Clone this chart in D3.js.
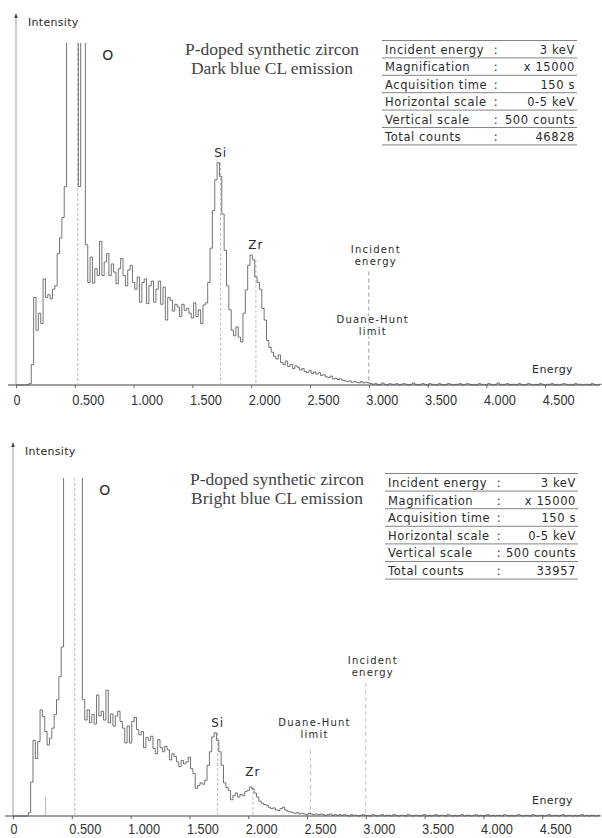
<!DOCTYPE html>
<html>
<head>
<meta charset="utf-8">
<script src="https://cdn.jsdelivr.net/npm/d3@7"></script>
<style>
  html, body { margin: 0; padding: 0; background: #fff; }
  svg { display: block; }
</style>
</head>
<body>
<svg id="chart" width="602" height="838"></svg>
<script>
// EDS spectra, one channel every 0.02 keV from 0 to 5 keV (counts)
const energyStep = 0.02;

const darkCounts = [
  0, 0, 0, 0, 0, 0,
  2, 30, 128, 80, 105, 90, 155, 128, 132, 126, 140, 145, 192, 215,
  245, 290, 700, 900, 1100, 1200, 1000, 290, 900, 700,
  205, 150, 187, 149, 170, 160, 210, 160, 180, 192,
  160, 177, 165, 148, 170, 185, 160, 145, 168, 175,
  150, 140, 158, 121, 150, 155, 119, 145, 152, 121,
  140, 152, 118, 143, 95, 128, 124, 108, 118, 114,
  100, 118, 109, 112, 105, 98, 120, 100, 110, 90,
  117, 120, 150, 200, 255, 300, 325, 305, 250, 197,
  145, 110, 80, 72, 85, 70, 63, 105, 139, 175,
  190, 183, 158, 150, 140, 112, 95, 65, 55, 48,
  42, 38, 44, 33, 30, 35, 27, 30, 24, 28,
  26, 22, 24, 20, 18, 21, 17, 19, 16, 18,
  14, 15, 12, 11, 13, 9, 10, 8, 9, 7,
  6, 5, 6, 4, 5, 4, 3, 5, 3, 4,
  3,
  2, 1, 2, 0, 1, 3, 1, 0, 2, 1,
  1, 2, 0, 1, 2, 1, 0, 1, 3, 1,
  0, 1, 2, 1, 0, 2, 1, 1, 0, 2,
  1, 0, 1, 2, 1, 0, 1, 1, 2, 0,
  1, 2, 1, 0, 1, 0, 2, 1, 1, 0,
  2, 1, 0, 1, 3, 1, 0, 1, 2, 0,
  1, 1, 0, 2, 1, 0, 1, 2, 1, 0,
  1, 0, 2, 1, 0, 1, 1, 2, 0, 1,
  0, 1, 2, 1, 0, 1, 0, 2, 1, 1,
  0, 1, 1, 0, 2, 1, 0, 1, 1, 0
];

const brightCounts = [
  0, 0, 0, 0, 0, 0, 0,
  5, 50, 112, 85, 110, 157, 147, 125, 105, 115, 130, 150, 172,
  206, 250, 700, 1000, 1300, 1500, 1400, 1100, 800, 600,
  172, 142, 157, 138, 150, 136, 179, 148, 155, 142,
  186, 138, 151, 133, 148, 155, 140, 130, 108, 133,
  108, 140, 146, 128, 120, 125, 101, 116, 112, 118,
  100, 92, 113, 101, 95, 103, 98, 83, 92, 88,
  80, 73, 82, 77, 80, 87, 70, 63, 41, 45,
  49, 47, 53, 75, 95, 117, 123, 112, 95, 75,
  49, 42, 38, 24, 30, 34, 28, 32, 30, 36,
  38, 43, 40, 34, 28, 22, 19, 17, 16, 13,
  11, 12, 9, 8, 11, 13, 9, 7, 6, 5,
  4, 5, 3, 4, 3, 2, 4, 3, 2, 3,
  2, 3, 2, 1, 2, 3, 1, 2, 1, 2,
  1, 2, 1, 0, 2, 1, 1, 0, 1, 2,
  1,
  1, 0, 2, 1, 0, 1, 2, 0, 1, 1,
  0, 2, 1, 0, 1, 1, 0, 2, 1, 0,
  1, 1, 0, 1, 2, 0, 1, 0, 1, 2,
  0, 1, 1, 0, 2, 1, 0, 1, 0, 1,
  2, 0, 1, 1, 0, 1, 2, 0, 1, 0,
  1, 2, 0, 1, 0, 1, 1, 0, 2, 1,
  0, 1, 0, 1, 2, 1, 0, 1, 1, 0,
  2, 1, 0, 1, 1, 0, 1, 2, 0, 1,
  1, 0, 1, 2, 0, 1, 1, 0, 1, 0,
  1, 2, 0, 1, 0, 1, 1, 0, 1, 0
];

const tickValues = [0, 0.5, 1, 1.5, 2, 2.5, 3, 3.5, 4, 4.5];
const tickLabels = ["0", "0.500", "1.000", "1.500", "2.000", "2.500", "3.000", "3.500", "4.000", "4.500"];

const tableLabels = ["Incident energy", "Magnification", "Acquisition time", "Horizontal scale", "Vertical scale", "Total counts"];
const darkTableValues = ["3 keV", "x 15000", "150 s", "0-5 keV", "500 counts", "46828"];
const brightTableValues = ["3 keV", "x 15000", "150 s", "0-5 keV", "500 counts", "33957"];

const peakNames = ["O", "Si", "Zr"];
const peakEnergies = [0.525, 1.74, 2.04];
const carbonEnergy = 0.277;
const incidentEnergy = 3.0;
const darkDuaneHunt = 3.0;
const brightDuaneHunt = 2.53;
const fullScale = 500;

const darkTitle = ["P-doped synthetic zircon", "Dark blue CL emission"];
const brightTitle = ["P-doped synthetic zircon", "Bright blue CL emission"];

// ---------- drawing ----------
const svg = d3.select("#chart");
const SANS = "'DejaVu Sans', Verdana, sans-serif";
const SERIF = "'Liberation Serif', 'Times New Roman', serif";
const NARROW = "'Liberation Sans Narrow', 'Liberation Sans', Arial, sans-serif";
const INK = "#2b2b2b";

const panels = [
  { id: "dark", counts: darkCounts, title: darkTitle, tableValues: darkTableValues, duaneHunt: darkDuaneHunt,
    x0: 16, base: 385, top: 43, arrowY: 13, titleX: 272, titleY: 55, tickY: 20,
    tableX: 382, tableW: 195, tableTop: 40.5, rowH: 17.4,
    incidentLabelY: 253, incidentLineTop: 271, dhLabelY: 323, dhLineTop: 272, carbon: false },
  { id: "bright", counts: brightCounts, title: brightTitle, tableValues: brightTableValues, duaneHunt: brightDuaneHunt,
    x0: 13, base: 816, top: 478, arrowY: 442, titleX: 277, titleY: 485, tickY: 18,
    tableX: 385, tableW: 193, tableTop: 473.5, rowH: 17.6,
    incidentLabelY: 664, incidentLineTop: 683, dhLabelY: 726, dhLineTop: 750, carbon: true }
];

const pxPerKeV = 117.6;

panels.forEach(p => {
  const g = svg.append("g").attr("class", "panel-" + p.id);
  const x = d3.scaleLinear().domain([0, 5]).range([p.x0, p.x0 + 5 * pxPerKeV]);
  const y = d3.scaleLinear().domain([0, fullScale]).range([p.base, p.top]);

  const clipId = "clip-" + p.id;
  svg.append("defs").append("clipPath").attr("id", clipId)
    .append("rect").attr("x", 0).attr("y", p.top).attr("width", 602).attr("height", p.base - p.top + 1);

  // energy axis
  g.append("line")
    .attr("x1", x(0) - 8).attr("x2", 600)
    .attr("y1", p.base).attr("y2", p.base)
    .attr("stroke", "#444").attr("stroke-width", 1.2);

  const axis = d3.axisBottom(x)
    .tickValues(tickValues)
    .tickSize(3)
    .tickFormat((d, i) => tickLabels[i]);
  const ax = g.append("g").attr("transform", `translate(0,${p.base})`).call(axis);
  ax.select(".domain").remove();
  ax.selectAll(".tick line").attr("stroke", "#666");
  ax.selectAll(".tick text")
    .attr("y", p.tickY).attr("dy", 0).attr("x", -3)
    .attr("text-anchor", "start")
    .attr("fill", "#333")
    .style("font-family", NARROW)
    .style("font-size", "15.5px")
    .attr("textLength", (d, i) => tickLabels[i].length > 1 ? 32 : 7)
    .attr("lengthAdjust", "spacingAndGlyphs");

  // intensity axis with arrow
  g.append("line")
    .attr("x1", x(0)).attr("x2", x(0))
    .attr("y1", p.base).attr("y2", p.arrowY + 3)
    .attr("stroke", "#888").attr("stroke-width", 0.8);
  g.append("path")
    .attr("d", `M${x(0)},${p.arrowY} l-1.8,5 l3.6,0 z`)
    .attr("fill", "#444");
  g.append("text")
    .attr("x", x(0) + 12).attr("y", p.arrowY + 13)
    .attr("fill", INK)
    .style("font-family", SANS).style("font-size", "11px")
    .style("letter-spacing", "0.3px")
    .text("Intensity");
  g.append("text")
    .attr("x", 573).attr("y", p.base - 12)
    .attr("text-anchor", "end")
    .attr("fill", INK)
    .style("font-family", SANS).style("font-size", "11px")
    .style("letter-spacing", "0.4px")
    .text("Energy");

  // element marker lines
  const peakTop = e => {
    const near = p.counts.filter((c, i) => Math.abs(i * energyStep - e) <= 0.03);
    return y(Math.min(fullScale, d3.max(near)));
  };
  peakEnergies.forEach((e, k) => {
    g.append("line")
      .attr("x1", x(e)).attr("x2", x(e))
      .attr("y1", k === 0 ? p.top : peakTop(e)).attr("y2", p.base)
      .attr("stroke", "#aaa").attr("stroke-width", 0.8)
      .attr("stroke-dasharray", "3,2");
  });
  if (p.carbon) {
    g.append("line")
      .attr("x1", x(carbonEnergy)).attr("x2", x(carbonEnergy))
      .attr("y1", y(28)).attr("y2", p.base)
      .attr("stroke", "#aaa").attr("stroke-width", 0.8);
  }

  // incident energy and Duane-Hunt limit
  g.append("line")
    .attr("x1", x(incidentEnergy)).attr("x2", x(incidentEnergy))
    .attr("y1", p.incidentLineTop).attr("y2", p.base)
    .attr("stroke", "#b0b0b0").attr("stroke-width", 0.8)
    .attr("stroke-dasharray", "4,3");
  g.append("line")
    .attr("x1", x(p.duaneHunt)).attr("x2", x(p.duaneHunt))
    .attr("y1", p.dhLineTop).attr("y2", p.base)
    .attr("stroke", "#b0b0b0").attr("stroke-width", 0.8)
    .attr("stroke-dasharray", "4,3");

  // spectrum
  const line = d3.line()
    .x((d, i) => x(i * energyStep))
    .y(d => y(d))
    .curve(d3.curveStep);
  g.append("path")
    .datum(p.counts)
    .attr("clip-path", `url(#${clipId})`)
    .attr("d", line)
    .attr("fill", "none")
    .attr("stroke", "#505050")
    .attr("stroke-width", 0.8)
    .attr("stroke-linejoin", "miter");

  // element labels
  const labelOffsets = [0, 6, 11];
  peakNames.forEach((name, k) => {
    const e = peakEnergies[k];
    const lx = k === 0 ? x(0.78) : x(e);
    const ly = k === 0 ? p.top + 17 : peakTop(e) - labelOffsets[k];
    g.append("text")
      .attr("x", lx).attr("y", ly)
      .attr("text-anchor", "middle")
      .attr("fill", INK)
      .style("font-family", SANS)
      .style("font-size", k === 0 ? "14px" : "12px")
      .style("letter-spacing", k === 0 ? "0" : "1px")
      .text(name);
  });

  // reference line labels, two lines each (white halo keeps the dashed lines off the text)
  const refLabel = (lines, cx, by) => {
    lines.forEach((s, j) => {
      g.append("text")
        .attr("x", cx).attr("y", by + j * 12)
        .attr("text-anchor", "middle")
        .attr("fill", INK)
        .attr("stroke", "#fff").attr("stroke-width", 3)
        .style("paint-order", "stroke")
        .style("font-family", SANS).style("font-size", "10px")
        .style("letter-spacing", "1.2px")
        .text(s);
    });
  };
  refLabel(["Incident", "energy"], x(incidentEnergy) + 7, p.incidentLabelY);
  refLabel(["Duane-Hunt", "limit"], x(p.duaneHunt) + 4, p.dhLabelY);

  // sample title
  p.title.forEach((t, j) => {
    g.append("text")
      .attr("x", p.titleX).attr("y", p.titleY + j * 18.5)
      .attr("text-anchor", "middle")
      .attr("fill", "#444")
      .style("font-family", SERIF).style("font-size", "17.5px")
      .text(t);
  });

  // acquisition table
  const tg = g.append("g");
  d3.range(tableLabels.length + 1).forEach(r => {
    tg.append("line")
      .attr("x1", p.tableX).attr("x2", p.tableX + p.tableW)
      .attr("y1", p.tableTop + r * p.rowH).attr("y2", p.tableTop + r * p.rowH)
      .attr("stroke", "#777").attr("stroke-width", 0.9);
  });
  tableLabels.forEach((lab, r) => {
    const by = p.tableTop + r * p.rowH + 13.5;
    const txt = (xx, anchor, s) => tg.append("text")
      .attr("x", xx).attr("y", by)
      .attr("text-anchor", anchor)
      .attr("fill", INK)
      .style("font-family", SANS).style("font-size", "11.5px")
      .style("letter-spacing", "0.6px")
      .text(s);
    txt(p.tableX + 3, "start", lab);
    txt(p.tableX + 114, "middle", ":");
    txt(p.tableX + p.tableW - 2, "end", p.tableValues[r]);
  });
});
</script>
</body>
</html>
